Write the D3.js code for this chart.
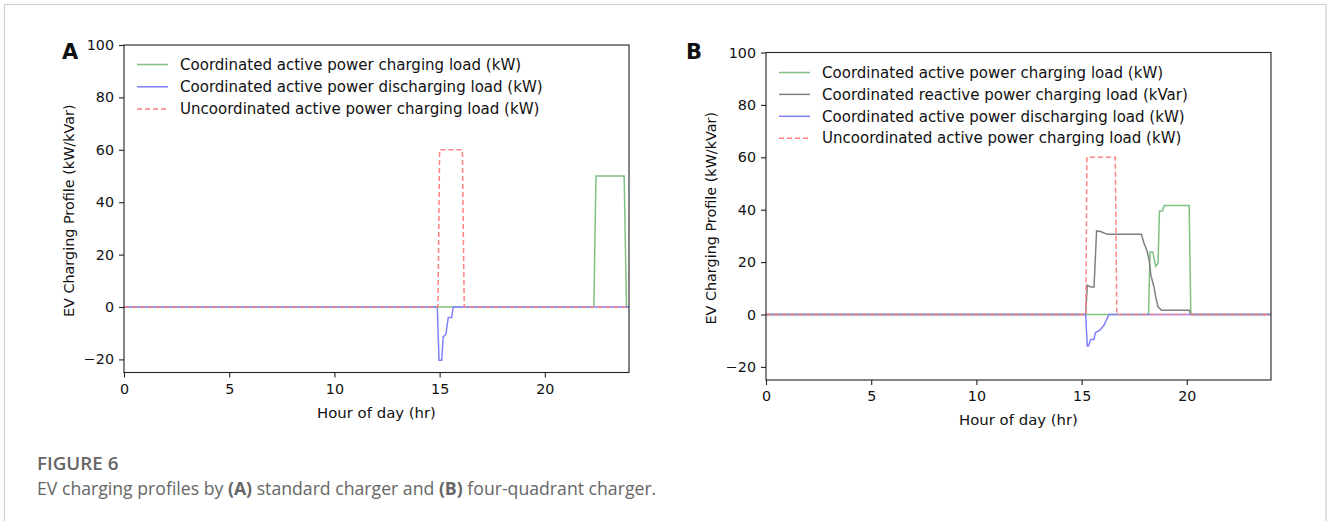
<!DOCTYPE html>
<html>
<head>
<meta charset="utf-8">
<script src="https://cdn.jsdelivr.net/npm/d3@7"></script>
<style>
  body { margin: 0; background: #fff; }
  svg text { font-family: "DejaVu Sans", sans-serif; }
  .tick text { fill: #111; }
  .tick line { stroke: #222; }
  svg text.caption { font-family: "Open Sans", sans-serif; fill: #666; }
</style>
</head>
<body>
<svg></svg>
<script>
const w = 1328;
const h = 521;

// Data (hours of day, kW / kVar)
const xTicks = [0, 5, 10, 15, 20];
const yTicks = [-20, 0, 20, 40, 60, 80, 100];

// Panel A: standard charger
const hoursChargeA = [0, 22.33, 22.43, 23.77, 23.88, 24];
const chargeA = [0, 0, 50, 50, 0, 0];
const hoursDischargeA = [0, 14.89, 14.97, 15.1, 15.17, 15.3, 15.41, 15.57, 15.65, 24];
const dischargeA = [0, 0, -20.3, -20.3, -11.4, -10.4, -4, -4, 0, 0];
const hoursUncoordA = [0, 14.92, 15.0, 16.08, 16.17, 24];
const uncoordA = [0, 0, 60, 60, 0, 0];

// Panel B: four-quadrant charger
const hoursChargeB = [0, 18.18, 18.25, 18.38, 18.52, 18.63, 18.7, 18.84, 18.92, 20.11, 20.19, 24];
const chargeB = [0, 0, 23.9, 23.9, 18.4, 19.5, 39.5, 39.5, 41.6, 41.6, 0, 0];
const hoursReactiveB = [0, 15.19, 15.27, 15.43, 15.59, 15.71, 15.9, 16.22, 17.84, 17.97, 18.1, 18.21, 18.29, 18.44, 18.52, 18.63, 18.8, 20.11, 20.19, 24];
const reactiveB = [0, 0, 11.2, 10.5, 10.5, 31.9, 31.7, 30.6, 30.6, 27, 24.5, 20.7, 15, 10.5, 6.7, 2.9, 1.6, 1.6, 0, 0];
const hoursDischargeB = [0, 15.19, 15.27, 15.33, 15.43, 15.59, 15.65, 15.87, 16.06, 16.3, 24];
const dischargeB = [0, 0, -12.1, -12, -9.5, -9.5, -7, -6, -4.1, 0, 0];
const hoursUncoordB = [0, 15.2, 15.25, 16.6, 16.67, 24];
const uncoordB = [0, 0, 60, 60, 0, 0];

const labelCharge = "Coordinated active power charging load (kW)";
const labelReactive = "Coordinated reactive power charging load (kVar)";
const labelDischarge = "Coordinated active power discharging load (kW)";
const labelUncoord = "Uncoordinated active power charging load (kW)";

const zip = (xs, ys) => xs.map((x, i) => [x, ys[i]]);

const styles = {
  charge: { color: "#80c080", dash: null },
  reactive: { color: "#808080", dash: null },
  discharge: { color: "#8080ff", dash: null },
  uncoord: { color: "#ff8080", dash: "5,3" }
};

const panels = [
  {
    letter: "A", left: 124, top: 45, right: 629, bottom: 372.5, letterX: 62,
    series: [
      { key: "charge", label: labelCharge, data: zip(hoursChargeA, chargeA) },
      { key: "discharge", label: labelDischarge, data: zip(hoursDischargeA, dischargeA) },
      { key: "uncoord", label: labelUncoord, data: zip(hoursUncoordA, uncoordA) }
    ],
    legendY: 64.5, legendStep: 22.3
  },
  {
    letter: "B", left: 766, top: 52.5, right: 1271, bottom: 380, letterX: 686,
    series: [
      { key: "charge", label: labelCharge, data: zip(hoursChargeB, chargeB) },
      { key: "reactive", label: labelReactive, data: zip(hoursReactiveB, reactiveB) },
      { key: "discharge", label: labelDischarge, data: zip(hoursDischargeB, dischargeB) },
      { key: "uncoord", label: labelUncoord, data: zip(hoursUncoordB, uncoordB) }
    ],
    legendY: 72.5, legendStep: 21.9
  }
];

const svg = d3.select("svg")
    .attr("width", w)
    .attr("height", h);

// font size that makes a string as wide as it is in the picture
function fitSize(str, target, cls) {
  const t = svg.append("text").attr("class", cls || null)
      .style("font-size", "10px").text(str);
  const len = t.node().getComputedTextLength();
  t.remove();
  return 10 * target / len;
}
const legendSize = fitSize(labelCharge, 341.5);
const ylabelSize = fitSize("EV Charging Profile (kW/kVar)", 213);
const xlabelSize = fitSize("Hour of day (hr)", 119);
const tickSize = 14.3;

// figure frame
svg.append("rect")
    .attr("x", 4.5).attr("y", 4.5)
    .attr("width", 1321.5).attr("height", 600)
    .attr("fill", "none")
    .attr("stroke", "#d0d0d0")
    .attr("stroke-width", 1.2);

panels.forEach(p => {
  const x = d3.scaleLinear().domain([0, 24]).range([p.left, p.right]);
  const y = d3.scaleLinear().domain([-25, 100]).range([p.bottom, p.top]);
  const g = svg.append("g");

  const line = d3.line().x(d => x(d[0])).y(d => y(d[1]));

  const clipId = "clip" + p.letter;
  g.append("clipPath").attr("id", clipId)
    .append("rect")
    .attr("x", p.left).attr("y", p.top)
    .attr("width", p.right - p.left).attr("height", p.bottom - p.top);

  g.append("g").attr("clip-path", `url(#${clipId})`)
    .selectAll(".series")
    .data(p.series)
    .enter()
    .append("path")
    .attr("class", "series")
    .attr("d", d => line(d.data))
    .attr("fill", "none")
    .attr("stroke", d => styles[d.key].color)
    .attr("stroke-width", 1.5)
    .attr("stroke-dasharray", d => styles[d.key].dash);

  const xAxis = g.append("g")
      .attr("transform", `translate(0,${p.bottom})`)
      .call(d3.axisBottom(x).tickValues(xTicks).tickSize(5).tickPadding(6));
  const yAxis = g.append("g")
      .attr("transform", `translate(${p.left},0)`)
      .call(d3.axisLeft(y).tickValues(yTicks).tickSize(5).tickPadding(5)
        .tickFormat(d => d < 0 ? "\u2212" + Math.abs(d) : d));
  [xAxis, yAxis].forEach(a => {
    a.select(".domain").remove();
    a.selectAll(".tick line").attr("stroke-width", 1.1);
    a.attr("font-family", null).attr("font-size", null);
    a.selectAll(".tick text").style("font-size", tickSize + "px");
  });

  g.append("rect")
    .attr("x", p.left).attr("y", p.top)
    .attr("width", p.right - p.left).attr("height", p.bottom - p.top)
    .attr("fill", "none")
    .attr("stroke", "#222")
    .attr("stroke-width", 1.1);

  g.append("text")
    .attr("x", (p.left + p.right) / 2)
    .attr("y", p.bottom + 45)
    .attr("text-anchor", "middle")
    .style("font-size", xlabelSize + "px")
    .attr("fill", "#111")
    .text("Hour of day (hr)");

  g.append("text")
    .attr("transform", `translate(${p.left - 50},${(p.top + p.bottom) / 2 + 2}) rotate(-90)`)
    .attr("text-anchor", "middle")
    .style("font-size", ylabelSize + "px")
    .attr("fill", "#111")
    .text("EV Charging Profile (kW/kVar)");

  g.append("text")
    .attr("x", p.letterX)
    .attr("y", 58.5)
    .style("font-size", "21px")
    .attr("font-weight", "bold")
    .attr("fill", "#111")
    .text(p.letter);

  // legend
  const leg = g.selectAll(".legend")
    .data(p.series)
    .enter()
    .append("g")
    .attr("class", "legend")
    .attr("transform", (d, i) => `translate(${p.left + 13},${p.legendY + i * p.legendStep})`);
  leg.append("line")
    .attr("x1", 0).attr("x2", 31)
    .attr("stroke", d => styles[d.key].color)
    .attr("stroke-width", 1.5)
    .attr("stroke-dasharray", d => styles[d.key].dash);
  leg.append("text")
    .attr("x", 43)
    .attr("dy", "0.35em")
    .style("font-size", legendSize + "px")
    .attr("fill", "#111")
    .text(d => d.label);
});

// caption
const figSize = fitSize("FIGURE 6", 80, "caption");
svg.append("text")
    .attr("class", "caption")
    .attr("x", 37).attr("y", 470)
    .style("font-size", figSize + "px")
    .attr("font-weight", 600)
    .text("FIGURE 6");

const capSize = fitSize("EV charging profiles by (A) standard charger and (B) four-quadrant charger.", 615, "caption");
const cap = svg.append("text")
    .attr("class", "caption")
    .attr("x", 37).attr("y", 495)
    .style("font-size", capSize + "px");
cap.append("tspan").text("EV charging profiles by ");
cap.append("tspan").attr("font-weight", 700).text("(A)");
cap.append("tspan").text(" standard charger and ");
cap.append("tspan").attr("font-weight", 700).text("(B)");
cap.append("tspan").text(" four-quadrant charger.");
</script>
</body>
</html>
